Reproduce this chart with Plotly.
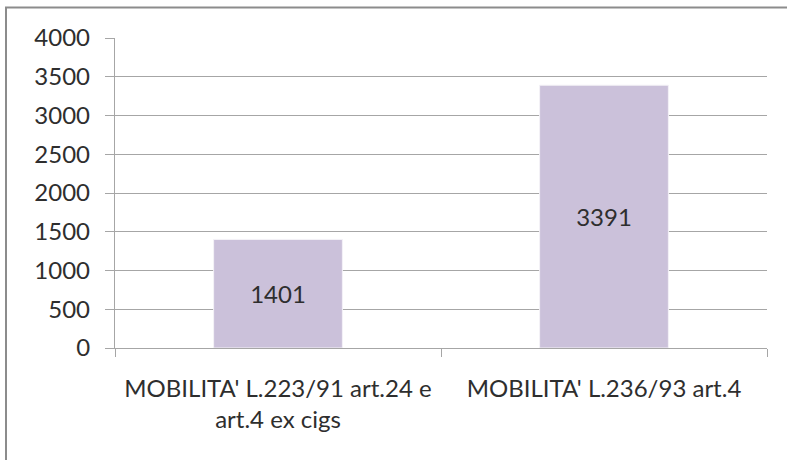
import plotly.graph_objects as go

categories = ["MOBILITA' L.223/91 art.24 e<br>art.4 ex cigs", "MOBILITA' L.236/93 art.4"]
values = [1401, 3391]
y_ticks = [0, 500, 1000, 1500, 2000, 2500, 3000, 3500, 4000]

W, H = 787, 460
L, R, T, B = 115, 20, 38, 112
pw, ph = W - L - R, H - T - B
FONT = dict(family="Lato", size=24, color="#2e2e2e")

fig = go.Figure(go.Bar(
    x=categories, y=values,
    text=[str(v) for v in values],
    textposition="inside", insidetextanchor="middle",
    textfont=FONT,
    marker=dict(color="#CBC1DA", line=dict(color="#f4f2f7", width=1)),
    width=0.395,
))

fig.update_layout(
    width=W, height=H,
    margin=dict(l=L, r=R, t=T, b=B),
    paper_bgcolor="white", plot_bgcolor="white",
    showlegend=False,
    font=FONT,
)
fig.update_yaxes(
    range=[0, 4000], tickvals=y_ticks, ticktext=[str(v) for v in y_ticks],
    showgrid=True, gridcolor="#a6a6a6", gridwidth=1.3,
    zeroline=False, showline=True, linecolor="#a6a6a6", linewidth=1.3,
    ticks="outside", ticklen=9, tickcolor="#a6a6a6", tickwidth=1.3,
    tickfont=FONT, ticklabelstandoff=10,
)
fig.update_xaxes(
    showline=True, linecolor="#a6a6a6", linewidth=1.3,
    ticks="outside", ticklen=8, tickcolor="#a6a6a6", tickwidth=1.3,
    tickson="boundaries", showgrid=False,
    tickfont=FONT, tickangle=0, ticklabelstandoff=19,
)

# outer frame (top and left edges visible)
x_left = (6 - L) / pw
y_top = (H - B - 7.5) / ph
fig.add_shape(type="rect", xref="paper", yref="paper",
              x0=x_left, x1=1.2, y0=-0.6, y1=y_top,
              line=dict(color="#8c8c8c", width=2), layer="below")

fig.write_html("out.html", config={"displayModeBar": False},
               post_script="document.body.style.margin='0';")
